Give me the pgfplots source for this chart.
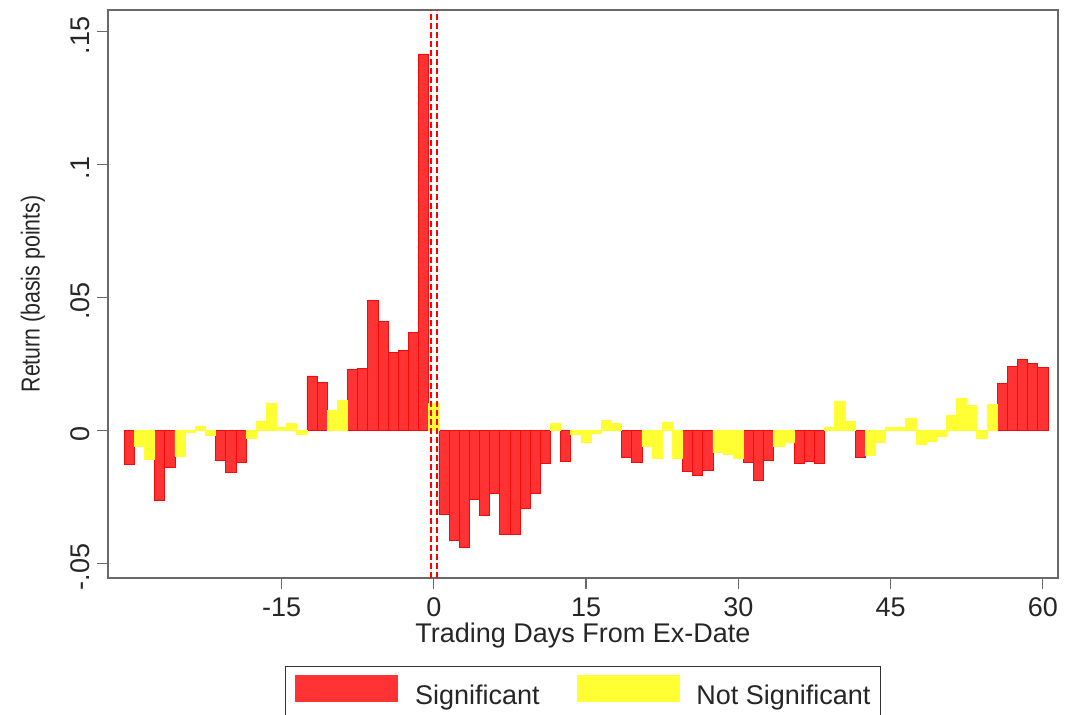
\documentclass[border=0pt]{standalone}
\usepackage{fontspec}
\setmainfont{Liberation Sans}
\usepackage{pgfplots}
\usepackage{pgfplotstable}
\pgfplotsset{compat=1.18}
\definecolor{sigfill}{RGB}{255,51,51}
\definecolor{sigedge}{RGB}{245,10,10}
\definecolor{nsfill}{RGB}{255,255,51}
\definecolor{framegray}{RGB}{105,105,105}
\definecolor{dashred}{RGB}{255,0,0}

% Significant returns
\pgfplotstableread{
x y
-30 -0.0130
-27 -0.0265
-26 -0.0140
-21 -0.0112
-20 -0.0160
-19 -0.0121
-12 0.0204
-11 0.0180
-8 0.0227
-7 0.0233
-6 0.0487
-5 0.0410
-4 0.0292
-3 0.0300
-2 0.0368
-1 0.1415
1 -0.0318
2 -0.0415
3 -0.0440
4 -0.0262
5 -0.0321
6 -0.0237
7 -0.0390
8 -0.0393
9 -0.0293
10 -0.0237
11 -0.0125
13 -0.0119
19 -0.0104
20 -0.0122
25 -0.0154
26 -0.0169
27 -0.0150
31 -0.0122
32 -0.0187
33 -0.0112
36 -0.0125
37 -0.0119
38 -0.0125
42 -0.0104
56 0.0175
57 0.0241
58 0.0266
59 0.0252
60 0.0237
}\sigtable

% Not significant returns
\pgfplotstableread{
x y
-29 -0.0060
-28 -0.0110
-25 -0.0097
-24 -0.0010
-23 0.0016
-22 -0.0020
-18 -0.0029
-17 0.0035
-16 0.0102
-15 0.0010
-14 0.0025
-13 -0.0015
-10 0.0075
-9 0.0112
0 0.0102
12 0.0027
14 -0.0015
15 -0.0044
16 -0.0011
17 0.0037
18 0.0025
21 -0.0062
22 -0.0106
23 0.0031
24 -0.0106
28 -0.0085
29 -0.0091
30 -0.0106
34 -0.0062
35 -0.0044
39 0.0012
40 0.0109
41 0.0035
43 -0.0094
44 -0.0044
45 0.0012
46 0.0012
47 0.0046
48 -0.0052
49 -0.0041
50 -0.0025
51 0.0055
52 0.0119
53 0.0094
54 -0.0029
55 0.0097
}\nstable

\begin{document}
\begin{tikzpicture}
\begin{axis}[
  at={(0pt,0pt)}, anchor=south west,
  scale only axis, width=475pt, height=284pt,
  xmin=-32.1, xmax=61.5, ymin=-0.0556, ymax=0.158,
  axis line style={framegray, line width=0.6pt},
  tick style={framegray, line width=0.6pt},
  tick align=outside, major tick length=5.5pt,
  tick pos=left,
  xtick={-15,0,15,30,45,60},
  xticklabels={-15,0,15,30,45,60},
  ytick={-0.05,0,0.05,0.1,0.15},
  yticklabels={-.05,0,.05,.1,.15},
  every tick label/.append style={font=\fontsize{13.5}{16}\selectfont, text=black!85},
  xticklabel style={anchor=north, yshift=-1pt},
  yticklabel style={rotate=90, anchor=south, xshift=-2pt},
  xlabel={Trading Days From Ex-Date},
  ylabel={\scalebox{0.82}[1]{Return (basis points)}},
  every axis x label/.style={at={(axis description cs:0.5,0)}, yshift=-29pt, anchor=center, font=\fontsize{13.5}{16}\selectfont, text=black!85},
  every axis y label/.style={at={(axis description cs:0,0.5)}, xshift=-37.5pt, rotate=90, anchor=center, font=\fontsize{13}{15}\selectfont, text=black!85},
  legend style={at={(axis description cs:0.5,-0.155)}, anchor=north,
    legend columns=2, draw=black!80, line width=0.6pt,
    font=\fontsize{13.5}{16}\selectfont,
    inner xsep=5pt, inner ysep=4pt,
    nodes={inner sep=0pt, text=black!85},
    /tikz/every odd column/.append style={column sep=8.5pt},
    /tikz/every even column/.append style={column sep=18.5pt}},
  legend cell align=left,
]
\addplot[ybar, bar width=1, bar shift=0, fill=sigfill, draw=sigedge, line width=0.35pt,
  legend image code/.code={\fill[sigfill] (0pt,-2.5pt) rectangle (51pt,10.8pt);}]
  table[x=x, y=y] {\sigtable};
\addlegendentry{Significant}
\addplot[ybar, bar width=1, bar shift=0, fill=nsfill, draw=nsfill, line width=0.35pt,
  legend image code/.code={\fill[nsfill] (0pt,-2.5pt) rectangle (51pt,10.8pt);}]
  table[x=x, y=y] {\nstable};
\addlegendentry{Not Significant}
\addplot[dashred, line width=0.9pt, dash pattern=on 3pt off 1.5pt, forget plot]
  coordinates {(-0.3,-0.0556) (-0.3,0.158)};
\addplot[dashred, line width=0.9pt, dash pattern=on 3pt off 1.5pt, forget plot]
  coordinates {(0.32,-0.0556) (0.32,0.158)};
\end{axis}
\pgfresetboundingbox
\path[use as bounding box] (-54pt,-68pt) rectangle (483pt,289pt);
\end{tikzpicture}
\end{document}
